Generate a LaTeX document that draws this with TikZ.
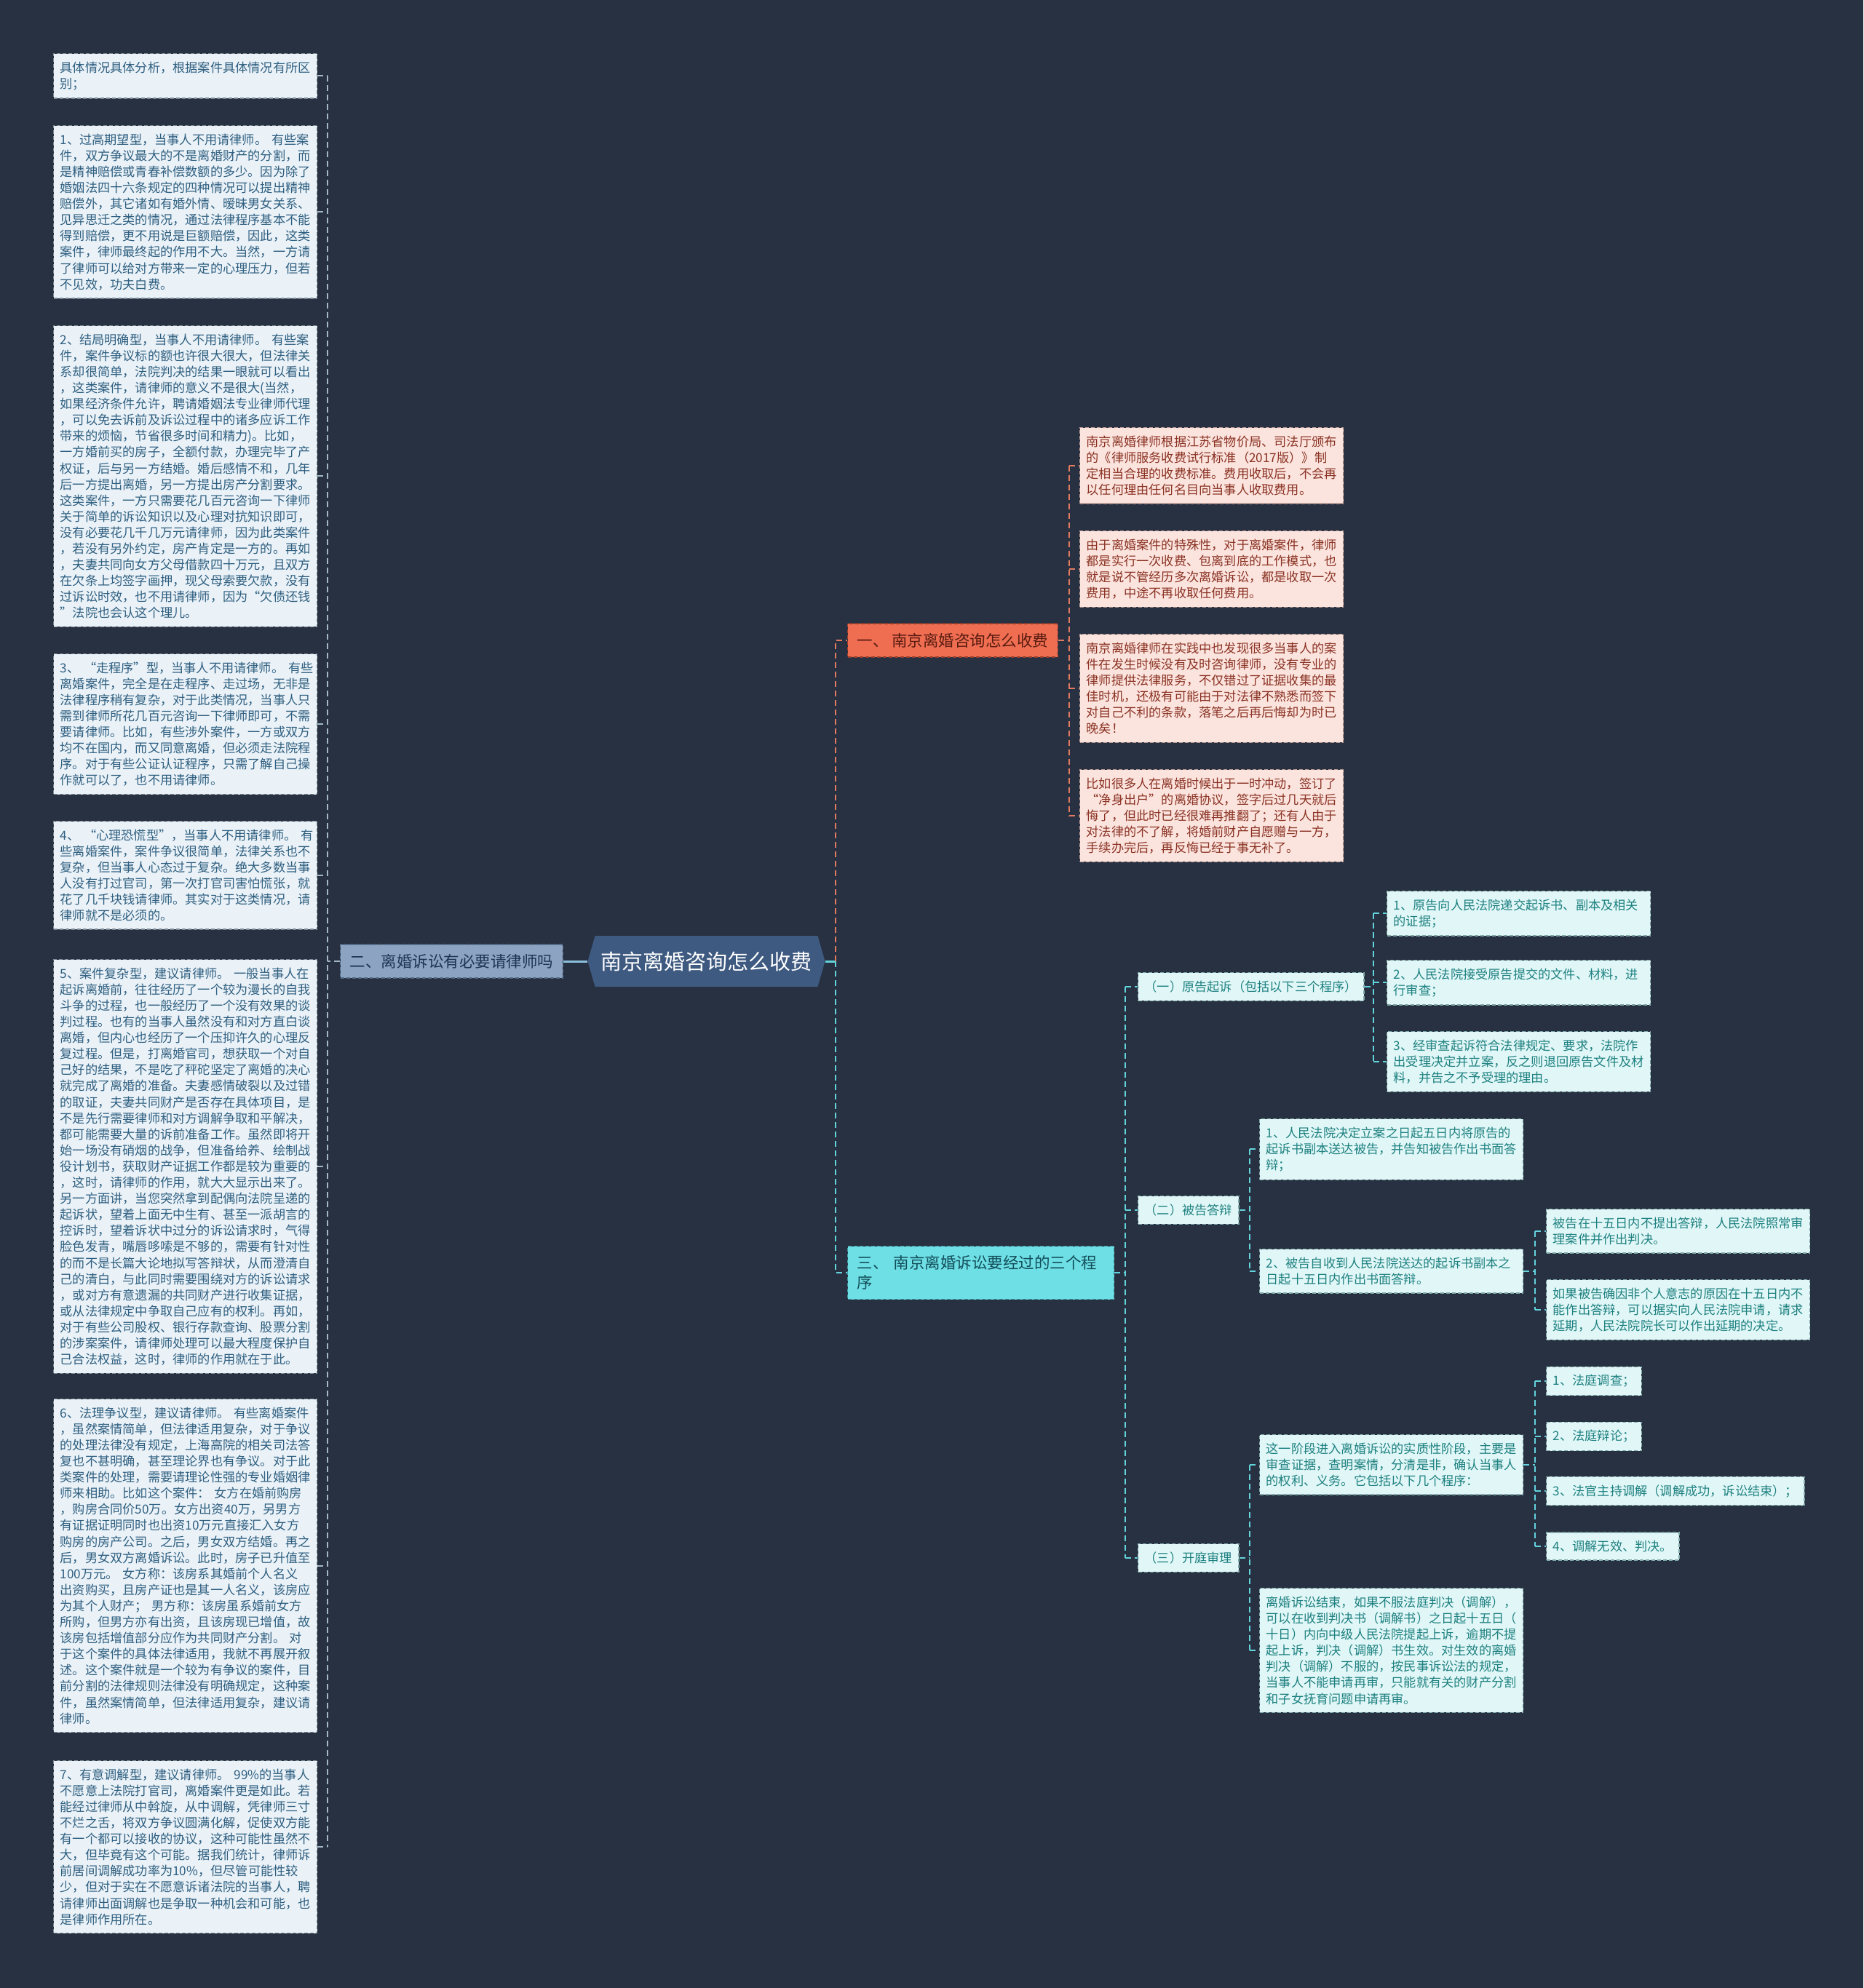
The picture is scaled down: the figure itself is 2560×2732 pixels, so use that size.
\documentclass[tikz,border=0pt]{standalone}
\usepackage{fontspec}
\setmainfont{Noto Sans CJK SC}
\usetikzlibrary{shapes.symbols}
\definecolor{bgc}{HTML}{283142}
\definecolor{lfill}{HTML}{EAF2F8}
\definecolor{lborder}{HTML}{7E8C99}
\definecolor{ltext}{HTML}{2F5F80}
\definecolor{pfill}{HTML}{FCE4DE}
\definecolor{pborder}{HTML}{B89890}
\definecolor{ptext}{HTML}{8A3223}
\definecolor{tfill}{HTML}{E1F7F7}
\definecolor{tborder}{HTML}{7FA8A8}
\definecolor{ttext}{HTML}{1E8080}
\definecolor{bonefill}{HTML}{EF6E52}
\definecolor{bonetext}{HTML}{5A1C10}
\definecolor{bthreefill}{HTML}{6EDFE5}
\definecolor{bthreetext}{HTML}{134E5A}
\definecolor{btwofill}{HTML}{8CA3C1}
\definecolor{btwotext}{HTML}{1E3452}
\definecolor{rootfill}{HTML}{3E5A80}
\definecolor{lline}{HTML}{A5B8C8}
\definecolor{oline}{HTML}{E07A60}
\definecolor{cline}{HTML}{63D3DC}
\definecolor{rootl}{HTML}{8CC0DC}
\tikzset{
  boxbase/.style={align=left, font=\fontsize{17.2}{22.1}\selectfont, inner xsep=9pt, inner ysep=11pt, line width=1.3pt, dash pattern=on 5pt off 3pt},
  lbox/.style={boxbase, anchor=north west, fill=lfill, draw=lborder, text=ltext, text width=344pt},
  pbox/.style={boxbase, anchor=north west, fill=pfill, draw=pborder, text=ptext, text width=344pt},
  tbox/.style={boxbase, anchor=north west, fill=tfill, draw=tborder, text=ttext, text width=344pt},
  tsmall/.style={boxbase, anchor=west, fill=tfill, draw=tborder, text=ttext},
  branchbase/.style={anchor=west, align=left, font=\fontsize{21.5}{27}\selectfont, inner xsep=13pt, inner ysep=13pt, line width=1.3pt, dash pattern=on 5pt off 3pt},
  bone/.style={branchbase, fill=bonefill, draw=bonetext!60!bonefill, text=bonetext},
  btwo/.style={branchbase, fill=btwofill, draw=btwotext!50!btwofill, text=btwotext},
  bthree/.style={branchbase, fill=bthreefill, draw=bthreetext!50!bthreefill, text=bthreetext, text width=340pt},
  rootnode/.style={signal, signal to=west and east, signal pointer angle=148, fill=rootfill, text=white, font=\fontsize{29}{34}\selectfont, minimum width=326pt, minimum height=70pt, inner sep=0pt},
  conn/.style={line width=2pt, dash pattern=on 8pt off 5pt},
  lconn/.style={conn, draw=lline},
  oconn/.style={conn, draw=oline},
  cconn/.style={conn, draw=cline},
}
\begin{document}
\begin{tikzpicture}[x=1pt,y=-1pt]
\fill[bgc] (0,0) rectangle (2560,2732);
\useasboundingbox (0,0) rectangle (2560,2732);

% spine coordinates
\coordinate (spL) at (450,0);
\coordinate (spR) at (1148,0);
\coordinate (spP) at (1469,0);
\coordinate (spB) at (1546,0);
\coordinate (spT) at (1887,0);
\coordinate (spU) at (1717,0);
\coordinate (spV) at (2109,0);

% root
\node[rootnode] (root) at (970.5,1321) {南京离婚咨询怎么收费};

% branches
\node[btwo] (b2) at (467,1321) {二、离婚诉讼有必要请律师吗};
\node[bone] (b1) at (1164,880) {一、~南京离婚咨询怎么收费};
\node[bthree] (b3) at (1164,1749) {三、~南京离婚诉讼要经过的三个程\\序};

% left column
\node[lbox] (L0) at (73,73) {具体情况具体分析，根据案件具体情况有所区\\别；};
\node[lbox] (L1) at (73,172) {1、过高期望型，当事人不用请律师。~有些案\\件，双方争议最大的不是离婚财产的分割，而\\是精神赔偿或青春补偿数额的多少。因为除了\\婚姻法四十六条规定的四种情况可以提出精神\\赔偿外，其它诸如有婚外情、暧昧男女关系、\\见异思迁之类的情况，通过法律程序基本不能\\得到赔偿，更不用说是巨额赔偿，因此，这类\\案件，律师最终起的作用不大。当然，一方请\\了律师可以给对方带来一定的心理压力，但若\\不见效，功夫白费。};
\node[lbox] (L2) at (73,447) {2、结局明确型，当事人不用请律师。~有些案\\件，案件争议标的额也许很大很大，但法律关\\系却很简单，法院判决的结果一眼就可以看出\\，这类案件，请律师的意义不是很大(当然，\\如果经济条件允许，聘请婚姻法专业律师代理\\，可以免去诉前及诉讼过程中的诸多应诉工作\\带来的烦恼，节省很多时间和精力)。比如，\\一方婚前买的房子，全额付款，办理完毕了产\\权证，后与另一方结婚。婚后感情不和，几年\\后一方提出离婚，另一方提出房产分割要求。\\这类案件，一方只需要花几百元咨询一下律师\\关于简单的诉讼知识以及心理对抗知识即可，\\没有必要花几千几万元请律师，因为此类案件\\，若没有另外约定，房产肯定是一方的。再如\\，夫妻共同向女方父母借款四十万元，且双方\\在欠条上均签字画押，现父母索要欠款，没有\\过诉讼时效，也不用请律师，因为“欠债还钱\\”法院也会认这个理儿。};
\node[lbox] (L3) at (73,898) {3、~“走程序”型，当事人不用请律师。~有些\\离婚案件，完全是在走程序、走过场，无非是\\法律程序稍有复杂，对于此类情况，当事人只\\需到律师所花几百元咨询一下律师即可，不需\\要请律师。比如，有些涉外案件，一方或双方\\均不在国内，而又同意离婚，但必须走法院程\\序。对于有些公证认证程序，只需了解自己操\\作就可以了，也不用请律师。};
\node[lbox] (L4) at (73,1128) {4、~“心理恐慌型”，当事人不用请律师。~有\\些离婚案件，案件争议很简单，法律关系也不\\复杂，但当事人心态过于复杂。绝大多数当事\\人没有打过官司，第一次打官司害怕慌张，就\\花了几千块钱请律师。其实对于这类情况，请\\律师就不是必须的。};
\node[lbox] (L5) at (73,1318) {5、案件复杂型，建议请律师。~一般当事人在\\起诉离婚前，往往经历了一个较为漫长的自我\\斗争的过程，也一般经历了一个没有效果的谈\\判过程。也有的当事人虽然没有和对方直白谈\\离婚，但内心也经历了一个压抑许久的心理反\\复过程。但是，打离婚官司，想获取一个对自\\己好的结果，不是吃了秤砣坚定了离婚的决心\\就完成了离婚的准备。夫妻感情破裂以及过错\\的取证，夫妻共同财产是否存在具体项目，是\\不是先行需要律师和对方调解争取和平解决，\\都可能需要大量的诉前准备工作。虽然即将开\\始一场没有硝烟的战争，但准备给养、绘制战\\役计划书，获取财产证据工作都是较为重要的\\，这时，请律师的作用，就大大显示出来了。\\另一方面讲，当您突然拿到配偶向法院呈递的\\起诉状，望着上面无中生有、甚至一派胡言的\\控诉时，望着诉状中过分的诉讼请求时，气得\\脸色发青，嘴唇哆嗦是不够的，需要有针对性\\的而不是长篇大论地拟写答辩状，从而澄清自\\己的清白，与此同时需要围绕对方的诉讼请求\\，或对方有意遗漏的共同财产进行收集证据，\\或从法律规定中争取自己应有的权利。再如，\\对于有些公司股权、银行存款查询、股票分割\\的涉案案件，请律师处理可以最大程度保护自\\己合法权益，这时，律师的作用就在于此。};
\node[lbox] (L6) at (73,1922) {6、法理争议型，建议请律师。~有些离婚案件\\，虽然案情简单，但法律适用复杂，对于争议\\的处理法律没有规定，上海高院的相关司法答\\复也不甚明确，甚至理论界也有争议。对于此\\类案件的处理，需要请理论性强的专业婚姻律\\师来相助。比如这个案件：~女方在婚前购房\\，购房合同价50万。女方出资40万，另男方\\有证据证明同时也出资10万元直接汇入女方\\购房的房产公司。之后，男女双方结婚。再之\\后，男女双方离婚诉讼。此时，房子已升值至\\100万元。~女方称：该房系其婚前个人名义\\出资购买，且房产证也是其一人名义，该房应\\为其个人财产；~男方称：该房虽系婚前女方\\所购，但男方亦有出资，且该房现已增值，故\\该房包括增值部分应作为共同财产分割。~对\\于这个案件的具体法律适用，我就不再展开叙\\述。这个案件就是一个较为有争议的案件，目\\前分割的法律规则法律没有明确规定，这种案\\件，虽然案情简单，但法律适用复杂，建议请\\律师。};
\node[lbox] (L7) at (73,2419) {7、有意调解型，建议请律师。~99\%的当事人\\不愿意上法院打官司，离婚案件更是如此。若\\能经过律师从中斡旋，从中调解，凭律师三寸\\不烂之舌，将双方争议圆满化解，促使双方能\\有一个都可以接收的协议，这种可能性虽然不\\大，但毕竟有这个可能。据我们统计，律师诉\\前居间调解成功率为10\%，但尽管可能性较\\少，但对于实在不愿意诉诸法院的当事人，聘\\请律师出面调解也是争取一种机会和可能，也\\是律师作用所在。};

% pink column
\node[pbox] (P1) at (1483,587) {南京离婚律师根据江苏省物价局、司法厅颁布\\的《律师服务收费试行标准（2017版）》制\\定相当合理的收费标准。费用收取后，不会再\\以任何理由任何名目向当事人收取费用。};
\node[pbox] (P2) at (1483,729) {由于离婚案件的特殊性，对于离婚案件，律师\\都是实行一次收费、包离到底的工作模式，也\\就是说不管经历多次离婚诉讼，都是收取一次\\费用，中途不再收取任何费用。};
\node[pbox] (P3) at (1483,871) {南京离婚律师在实践中也发现很多当事人的案\\件在发生时候没有及时咨询律师，没有专业的\\律师提供法律服务，不仅错过了证据收集的最\\佳时机，还极有可能由于对法律不熟悉而签下\\对自己不利的条款，落笔之后再后悔却为时已\\晚矣！};
\node[pbox] (P4) at (1483,1057) {比如很多人在离婚时候出于一时冲动，签订了\\“净身出户”的离婚协议，签字后过几天就后\\悔了，但此时已经很难再推翻了；还有人由于\\对法律的不了解，将婚前财产自愿赠与一方，\\手续办完后，再反悔已经于事无补了。};

% third branch children
\node[tsmall] (S1) at (1563,1356) {（一）原告起诉（包括以下三个程序）};
\node[tsmall] (S2) at (1563,1663) {（二）被告答辩};
\node[tsmall] (S3) at (1563,2141) {（三）开庭审理};

\node[tbox] (T1) at (1905,1224) {1、原告向人民法院递交起诉书、副本及相关\\的证据；};
\node[tbox] (T2) at (1905,1319) {2、人民法院接受原告提交的文件、材料，进\\行审查；};
\node[tbox] (T3) at (1905,1417) {3、经审查起诉符合法律规定、要求，法院作\\出受理决定并立案，反之则退回原告文件及材\\料，并告之不予受理的理由。};

\node[tbox] (U1) at (1730,1537) {1、人民法院决定立案之日起五日内将原告的\\起诉书副本送达被告，并告知被告作出书面答\\辩；};
\node[tbox] (U2) at (1730,1716) {2、被告自收到人民法院送达的起诉书副本之\\日起十五日内作出书面答辩。};
\node[tbox] (V1) at (2124,1661) {被告在十五日内不提出答辩，人民法院照常审\\理案件并作出判决。};
\node[tbox] (V2) at (2124,1758) {如果被告确因非个人意志的原因在十五日内不\\能作出答辩，可以据实向人民法院申请，请求\\延期，人民法院院长可以作出延期的决定。};

\node[tbox] (W1) at (1730,1971) {这一阶段进入离婚诉讼的实质性阶段，主要是\\审查证据，查明案情，分清是非，确认当事人\\的权利、义务。它包括以下几个程序：};
\node[tbox] (W2) at (1730,2182) {离婚诉讼结束，如果不服法庭判决（调解），\\可以在收到判决书（调解书）之日起十五日（\\十日）内向中级人民法院提起上诉，逾期不提\\起上诉，判决（调解）书生效。对生效的离婚\\判决（调解）不服的，按民事诉讼法的规定，\\当事人不能申请再审，只能就有关的财产分割\\和子女抚育问题申请再审。};
\node[tsmall] (X1) at (2124,1898) {1、法庭调查；};
\node[tsmall] (X2) at (2124,1974) {2、法庭辩论；};
\node[tsmall] (X3) at (2124,2049) {3、法官主持调解（调解成功，诉讼结束）；};
\node[tsmall] (X4) at (2124,2125) {4、调解无效、判决。};

% root connectors
\draw[rootl, line width=3pt] (root.west) -- (b2.east);
\draw[cline, line width=3pt] (root.east) -- (root.east -| spR);
\draw[oconn] (root.east -| spR) -- (b1.west -| spR) -- (b1.west);
\draw[cconn] (root.east -| spR) -- (b3.west -| spR) -- (b3.west);

% left column connectors
\draw[lconn] (b2.west) -- (b2.west -| spL);
\draw[lconn] (L0.east -| spL) -- (L7.east -| spL);
\foreach \n in {L0,L1,L2,L3,L4,L5,L6,L7} \draw[lconn] (\n.east) -- (\n.east -| spL);

% pink connectors
\draw[oconn] (b1.east) -- (b1.east -| spP);
\draw[oconn] (P1.west -| spP) -- (P4.west -| spP);
\foreach \n in {P1,P2,P3,P4} \draw[oconn] (\n.west -| spP) -- (\n.west);

% third branch connectors
\draw[cconn] (b3.east) -- (b3.east -| spB);
\draw[cconn] (S1.west -| spB) -- (S3.west -| spB);
\foreach \n in {S1,S2,S3} \draw[cconn] (\n.west -| spB) -- (\n.west);

\draw[cconn] (S1.east) -- (S1.east -| spT);
\draw[cconn] (T1.west -| spT) -- (T3.west -| spT);
\foreach \n in {T1,T2,T3} \draw[cconn] (\n.west -| spT) -- (\n.west);

\draw[cconn] (S2.east) -- (S2.east -| spU);
\draw[cconn] (U1.west -| spU) -- (U2.west -| spU);
\foreach \n in {U1,U2} \draw[cconn] (\n.west -| spU) -- (\n.west);

\draw[cconn] (U2.east) -- (U2.east -| spV);
\draw[cconn] (V1.west -| spV) -- (V2.west -| spV);
\foreach \n in {V1,V2} \draw[cconn] (\n.west -| spV) -- (\n.west);

\draw[cconn] (S3.east) -- (S3.east -| spU);
\draw[cconn] (W1.west -| spU) -- (W2.west -| spU);
\foreach \n in {W1,W2} \draw[cconn] (\n.west -| spU) -- (\n.west);

\draw[cconn] (W1.east) -- (W1.east -| spV);
\draw[cconn] (X1.west -| spV) -- (X4.west -| spV);
\foreach \n in {X1,X2,X3,X4} \draw[cconn] (\n.west -| spV) -- (\n.west);
\end{tikzpicture}
\end{document}
